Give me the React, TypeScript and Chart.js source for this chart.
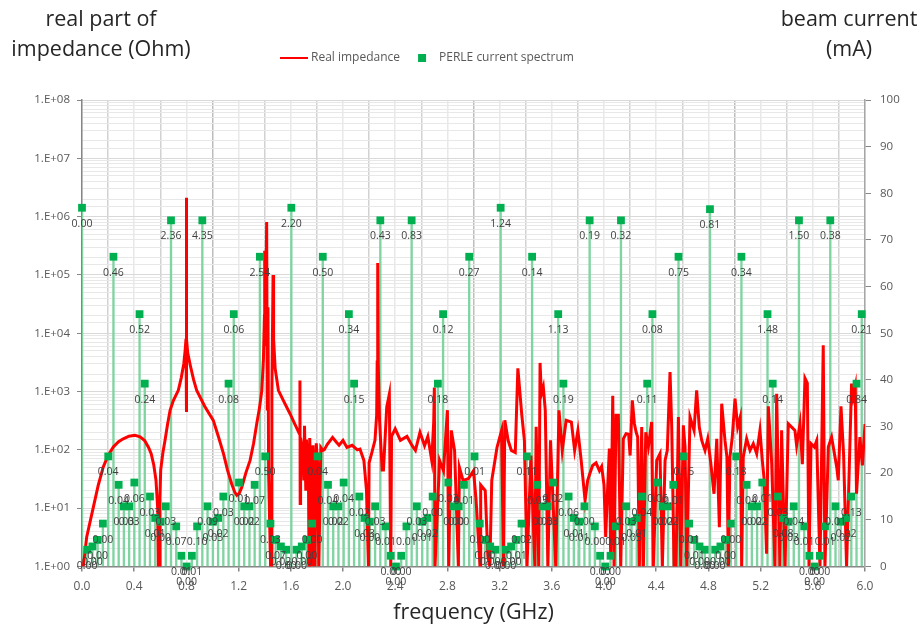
import React, { useEffect, useRef } from "react";
import { Chart, registerables } from "chart.js";

Chart.register(...registerables);

const FONT = '"Open Sans", sans-serif';

const harmonicFreq = [
  0, 0.04, 0.08, 0.12, 0.16, 0.201, 0.241, 0.281, 0.321, 0.361,
  0.401, 0.441, 0.481, 0.521, 0.561, 0.602, 0.642, 0.682, 0.722, 0.762,
  0.802, 0.842, 0.882, 0.922, 0.962, 1.003, 1.043, 1.083, 1.123, 1.163,
  1.203, 1.243, 1.283, 1.323, 1.363, 1.404, 1.444, 1.484, 1.524, 1.564,
  1.604, 1.644, 1.684, 1.724, 1.764, 1.805, 1.845, 1.885, 1.925, 1.965,
  2.005, 2.045, 2.085, 2.125, 2.165, 2.206, 2.246, 2.286, 2.326, 2.366,
  2.406, 2.446, 2.486, 2.526, 2.566, 2.607, 2.647, 2.687, 2.727, 2.767,
  2.807, 2.847, 2.887, 2.927, 2.967, 3.008, 3.048, 3.088, 3.128, 3.168,
  3.208, 3.248, 3.288, 3.328, 3.368, 3.409, 3.449, 3.489, 3.529, 3.569,
  3.609, 3.649, 3.689, 3.729, 3.769, 3.81, 3.85, 3.89, 3.93, 3.97,
  4.01, 4.05, 4.09, 4.13, 4.17, 4.211, 4.251, 4.291, 4.331, 4.371,
  4.411, 4.451, 4.491, 4.531, 4.571, 4.612, 4.652, 4.692, 4.732, 4.772,
  4.812, 4.852, 4.892, 4.932, 4.972, 5.013, 5.053, 5.093, 5.133, 5.173,
  5.213, 5.253, 5.293, 5.333, 5.373, 5.414, 5.454, 5.494, 5.534, 5.574,
  5.614, 5.654, 5.694, 5.734, 5.774, 5.815, 5.855, 5.895, 5.935, 5.975,
];

const beamCurrent = [
  76.9, 3.6, 4.3, 5.7, 9.2, 23.6, 66.4, 17.5, 12.9, 12.9, 18, 54.1, 39.2, 15, 10.4, 9.6, 12.9, 74.2, 8.6, 2.3,
  0, 2.3, 8.6, 74.2, 12.9, 9.6, 10.4, 15, 39.2, 54.1, 18, 12.9, 12.9, 17.5, 66.4, 23.6, 9.2, 5.7, 4.3, 3.6,
  76.9, 3.6, 4.3, 5.7, 9.2, 23.6, 66.4, 17.5, 12.9, 12.9, 18, 54.1, 39.2, 15, 10.4, 9.6, 12.9, 74.2, 8.6, 2.3,
  0, 2.3, 8.6, 74.2, 12.9, 9.6, 10.4, 15, 39.2, 54.1, 18, 12.9, 12.9, 17.5, 66.4, 23.6, 9.2, 5.7, 4.3, 3.6,
  76.9, 3.6, 4.3, 5.7, 9.2, 23.6, 66.4, 17.5, 12.9, 12.9, 18, 54.1, 39.2, 15, 10.4, 9.6, 12.9, 74.2, 8.6, 2.3,
  0, 2.3, 8.6, 74.2, 12.9, 9.6, 10.4, 15, 39.2, 54.1, 18, 12.9, 12.9, 17.5, 66.4, 23.6, 9.2, 5.7, 4.3, 3.6,
  76.6, 3.6, 4.3, 5.7, 9.2, 23.6, 66.4, 17.5, 12.9, 12.9, 18, 54.1, 39.2, 15, 10.4, 9.6, 12.9, 74.2, 8.6, 2.3,
  0, 2.3, 8.6, 74.2, 12.9, 9.6, 10.4, 15, 39.2, 54.1,
];

const powerLabels = [
  "0.00", "0.00", "0.00", "0.00", "0.00", "0.04", "0.46", "0.04", "0.03", "0.03", "0.06", "0.52", "0.24", "0.03", "0.01", "0.00", "0.03", "2.36", "0.07", "0.01",
  "0.00", "0.01", "0.10", "4.35", "0.09", "0.05", "0.02", "0.03", "0.08", "0.06", "0.01", "0.02", "0.02", "0.07", "2.54", "0.50", "0.03", "0.07", "0.02", "0.00",
  "2.20", "0.00", "0.00", "0.00", "0.00", "0.04", "0.50", "0.04", "0.02", "0.02", "0.04", "0.34", "0.15", "0.02", "0.03", "0.00", "0.03", "0.43", "0.01", "0.00",
  "0.00", "0.00", "0.01", "0.83", "0.03", "0.01", "0.02", "0.00", "0.18", "0.12", "0.03", "0.00", "0.00", "0.01", "0.27", "0.01", "0.00", "0.00", "0.00", "0.00",
  "1.24", "0.00", "0.00", "0.01", "0.02", "0.11", "0.14", "0.03", "0.03", "0.03", "0.02", "1.13", "0.19", "0.06", "0.01", "0.01", "0.00", "0.19", "0.00", "0.00",
  "0.00", "0.00", "0.01", "0.32", "0.03", "0.05", "0.01", "0.04", "0.11", "0.08", "0.06", "0.02", "0.02", "0.01", "0.75", "0.15", "0.01", "0.01", "0.00", "0.00",
  "0.81", "0.00", "0.00", "0.00", "0.00", "0.18", "0.34", "0.04", "0.02", "0.02", "0.01", "1.48", "0.14", "0.03", "0.08", "0.03", "0.04", "1.50", "0.01", "0.00",
  "0.00", "0.00", "0.01", "0.38", "0.01", "0.02", "0.02", "0.13", "0.84", "0.21",
];

// [frequency in GHz, real impedance in Ohm]
const impedance: [number, number][] = [
  [0.01, 1], [0.036, 3.2], [0.087, 10.4], [0.125, 25], [0.163, 51], [0.2, 80], [0.24, 112], [0.28, 138], [0.316, 155], [0.36, 172], [0.406, 178],
  [0.445, 168], [0.48, 145], [0.51, 110], [0.53, 86], [0.55, 55], [0.567, 30], [0.58, 10], [0.585, 1], [0.593, 1], [0.597, 15], [0.603, 45],
  [0.62, 90], [0.636, 145], [0.655, 270], [0.675, 478], [0.7, 700], [0.738, 1050], [0.76, 1700], [0.78, 3000], [0.79, 5000], [0.797, 8000],
  [0.8, 2100000], [0.8, 445], [0.802, 8000], [0.81, 4600], [0.83, 2800], [0.855, 1600], [0.879, 1050], [0.94, 560], [1.006, 320], [1.045, 170],
  [1.084, 86], [1.115, 45], [1.147, 26], [1.17, 19], [1.186, 16.6], [1.205, 18], [1.225, 23], [1.255, 40], [1.288, 66], [1.315, 130], [1.339, 282],
  [1.36, 520], [1.378, 1050], [1.39, 3500], [1.398, 20000], [1.4, 260000], [1.405, 6000], [1.415, 810000], [1.42, 500], [1.425, 28000], [1.43, 40],
  [1.445, 1], [1.45, 1], [1.455, 900], [1.464, 100000], [1.468, 8000], [1.48, 2500], [1.505, 1050], [1.55, 650], [1.594, 417], [1.63, 280],
  [1.665, 190], [1.67, 1550], [1.672, 12], [1.675, 160], [1.69, 100], [1.7, 30], [1.705, 260], [1.715, 20], [1.72, 150], [1.735, 40], [1.74, 1],
  [1.745, 160], [1.755, 25], [1.762, 1], [1.77, 120], [1.78, 20], [1.785, 1], [1.795, 130], [1.805, 60], [1.815, 1], [1.83, 110], [1.845, 98],
  [1.856, 100], [1.88, 125], [1.92, 163], [1.95, 135], [1.97, 120], [2.0, 145], [2.03, 110], [2.07, 120], [2.11, 100], [2.13, 103], [2.16, 66],
  [2.18, 20], [2.195, 1], [2.2, 60], [2.22, 88], [2.245, 146], [2.258, 400], [2.262, 3200], [2.266, 160000], [2.27, 3000], [2.28, 320], [2.3, 45],
  [2.31, 45], [2.335, 540], [2.355, 900], [2.366, 1], [2.372, 170], [2.4, 230], [2.44, 146], [2.49, 170], [2.53, 118], [2.555, 98], [2.59, 200],
  [2.625, 118], [2.65, 170], [2.68, 66], [2.695, 300], [2.7, 1170], [2.705, 1], [2.74, 66], [2.77, 44], [2.8, 480], [2.81, 1], [2.83, 216],
  [2.855, 98], [2.884, 1], [2.892, 50], [2.92, 30], [2.96, 32], [3.0, 44], [3.02, 13.6], [3.05, 1], [3.055, 25], [3.09, 20], [3.11, 1.5],
  [3.125, 1], [3.14, 30], [3.18, 110], [3.215, 215], [3.23, 1], [3.24, 321], [3.265, 146], [3.29, 98], [3.32, 90], [3.33, 478], [3.34, 2500],
  [3.37, 400], [3.39, 146], [3.41, 1], [3.44, 80], [3.47, 1], [3.48, 250], [3.5, 1], [3.51, 3100], [3.52, 900], [3.535, 1200], [3.55, 478],
  [3.57, 1], [3.59, 146], [3.63, 1], [3.655, 478], [3.68, 98], [3.71, 321], [3.75, 300], [3.775, 98], [3.8, 216], [3.825, 66], [3.855, 13.6],
  [3.875, 30], [3.893, 40], [3.913, 54], [3.939, 60], [3.965, 44], [3.982, 52], [4.0, 25], [4.013, 3.2], [4.026, 17.7], [4.041, 105], [4.051, 1.5],
  [4.067, 850], [4.077, 1], [4.092, 391], [4.11, 391], [4.128, 1], [4.148, 155], [4.169, 189], [4.189, 185], [4.2, 80], [4.217, 706], [4.233, 281],
  [4.246, 202], [4.258, 166], [4.271, 1], [4.289, 246], [4.302, 1], [4.32, 200], [4.34, 112], [4.365, 300], [4.378, 1], [4.404, 66], [4.429, 86],
  [4.447, 1], [4.468, 66], [4.485, 98], [4.506, 2170], [4.519, 246], [4.537, 1], [4.552, 1], [4.57, 366], [4.588, 1], [4.608, 263], [4.621, 112],
  [4.634, 1], [4.659, 366], [4.69, 216], [4.71, 1050], [4.73, 246], [4.749, 145], [4.774, 98], [4.795, 155], [4.818, 60], [4.843, 17.7], [4.864, 155],
  [4.884, 4.7], [4.902, 620], [4.927, 145], [4.942, 75], [4.953, 1], [4.965, 75], [4.983, 166], [5.004, 755], [5.024, 246], [5.044, 366], [5.055, 1],
  [5.067, 75], [5.093, 155], [5.119, 98], [5.144, 128], [5.17, 86], [5.195, 216], [5.213, 66], [5.228, 30], [5.246, 1.65], [5.259, 560], [5.285, 59],
  [5.31, 1], [5.323, 920], [5.348, 1], [5.361, 216], [5.387, 1], [5.412, 281], [5.438, 246], [5.463, 216], [5.476, 118], [5.502, 281], [5.52, 57],
  [5.54, 1700], [5.558, 1400], [5.571, 1], [5.586, 128], [5.612, 112], [5.63, 145], [5.655, 1], [5.68, 6200], [5.693, 1], [5.719, 112], [5.744, 166],
  [5.783, 51], [5.795, 30], [5.816, 560], [5.836, 82], [5.859, 1], [5.897, 1370], [5.91, 810], [5.925, 1200], [5.935, 17.7], [5.961, 166], [5.98, 54], [6.0, 278],
];

const xTickStep = 0.2;
const xMax = 6;
const yMin = 1;
const yMax = 1e8;
const rightMax = 100;
const rightStep = 10;

const legendNames = ["Real impedance", "PERLE current spectrum"];
const xTitle = "frequency (GHz)";
const leftTitle = ["real part of", "impedance (Ohm)"];
const rightTitle = ["beam current", "(mA)"];

const isMultiple = (v: number, step: number) => Math.abs(v / step - Math.round(v / step)) < 1e-6;

const decoration = {
  id: "decoration",
  afterLayout(chart: any) {
    chart.legend.left = 272;
    chart.legend.top = 41;
  },
  afterDatasetsDraw(chart: any) {
    const { ctx, scales } = chart;
    ctx.save();
    ctx.font = `10.5px ${FONT}`;
    ctx.fillStyle = "#404040";
    ctx.textAlign = "center";
    ctx.textBaseline = "middle";
    powerLabels.forEach((t, i) => {
      ctx.fillText(t, scales.x.getPixelForValue(harmonicFreq[i]), scales.y2.getPixelForValue(beamCurrent[i]) + 16);
    });
    ctx.font = `21.5px ${FONT}`;
    ctx.fillStyle = "#262626";
    leftTitle.forEach((t, i) => ctx.fillText(t, 101, 20 + i * 30));
    rightTitle.forEach((t, i) => ctx.fillText(t, 849, 20 + i * 30));
    ctx.restore();
  },
};

function legendIcon(kind: "line" | "rect") {
  const c = document.createElement("canvas");
  c.width = 28;
  c.height = 8;
  const g = c.getContext("2d")!;
  if (kind === "line") {
    g.fillStyle = "#ff0000";
    g.fillRect(0, 3, 28, 2);
  } else {
    g.fillStyle = "#00b050";
    g.fillRect(10, 0, 8, 8);
  }
  return c;
}

export default function App() {
  const ref = useRef<HTMLCanvasElement>(null);
  useEffect(() => {
    const lineIcon = legendIcon("line");
    const rectIcon = legendIcon("rect");
    const chart = new Chart(ref.current!, {
      type: "bar",
      data: {
        datasets: [
          {
            type: "bar",
            label: "stems",
            data: harmonicFreq.map((f, i) => ({ x: f, y: beamCurrent[i] })),
            xAxisID: "x",
            yAxisID: "y2",
            backgroundColor: "#80d4a2",
            barThickness: 1.7,
            order: 3,
          },
          {
            type: "line",
            label: legendNames[0],
            data: impedance.map(([x, y]) => ({ x, y })),
            xAxisID: "x",
            yAxisID: "y",
            borderColor: "#ff0000",
            backgroundColor: "#ff0000",
            borderWidth: 3,
            pointRadius: 0,
            tension: 0,
            order: 2,
          },
          {
            type: "line",
            label: legendNames[1],
            data: harmonicFreq.map((f, i) => ({ x: f, y: beamCurrent[i] })),
            xAxisID: "x",
            yAxisID: "y2",
            showLine: false,
            pointStyle: "rect",
            pointRadius: 5.5,
            pointBackgroundColor: "#00b050",
            pointBorderColor: "#00b050",
            pointBorderWidth: 0,
            borderColor: "#00b050",
            backgroundColor: "#00b050",
            clip: false,
            order: 1,
          },
        ] as any,
      },
      options: {
        responsive: false,
        animation: false,
        layout: { autoPadding: false, padding: { top: 67, left: 0, right: 0, bottom: 0 } },
        plugins: {
          tooltip: { enabled: false },
          title: { display: false },
          legend: {
            display: true,
            position: "top",
            align: "start",
            labels: {
              usePointStyle: true,
              pointStyleWidth: 22,
              boxHeight: 8,
              padding: 11,
              color: "#595959",
              font: { family: FONT, size: 12 },
              sort: (a: any, b: any) => a.datasetIndex - b.datasetIndex,
              filter: (item: any) => item.text !== "stems",
              generateLabels(chart: any) {
                const items = Chart.defaults.plugins.legend.labels.generateLabels(chart);
                items.forEach((it: any) => {
                  if (it.text === legendNames[0]) it.pointStyle = lineIcon;
                  else if (it.text === legendNames[1]) it.pointStyle = rectIcon;
                });
                return items;
              },
            },
          },
        },
        scales: {
          x: {
            type: "linear",
            position: "bottom",
            min: 0,
            max: xMax,
            offset: false,
            afterFit: (s: any) => { s.height = 63.5; },
            afterBuildTicks: (s: any) => {
              const vals: any[] = [];
              for (let k = 0; k <= 30; k++) vals.push({ value: Number((k * xTickStep).toFixed(1)) });
              s.ticks = vals;
            },
            ticks: {
              autoSkip: false,
              maxRotation: 0,
              padding: 8,
              color: "#595959",
              font: { family: FONT, size: 12 },
              callback: (v: any) => (isMultiple(Number(v), 0.4) ? Number(v).toFixed(1) : ""),
            },
            grid: {
              offset: false,
              lineWidth: 1.5,
              tickLength: 5,
              color: (c: any) => (c.tick && isMultiple(c.tick.value, 0.4) ? "#e8e8e8" : c.tick && isMultiple(c.tick.value, 1) ? "#bdbdbd" : "#d2d2d2"),
              tickColor: (c: any) => (c.tick && isMultiple(c.tick.value, 0.4) ? "#868686" : "transparent"),
            },
            border: { color: "#868686", width: 1.5 },
            title: {
              display: true,
              text: xTitle,
              color: "#262626",
              font: { family: FONT, size: 21.5 },
              padding: { top: 0, bottom: 4 },
            },
          },
          y: {
            type: "logarithmic",
            position: "left",
            min: yMin,
            max: yMax,
            afterFit: (s: any) => { s.width = 82; },
            ticks: {
              autoSkip: false,
              padding: 7,
              color: "#595959",
              font: { family: FONT, size: 11.5 },
              callback: (v: any) => {
                const e = Math.log10(Number(v));
                if (Math.abs(e - Math.round(e)) > 1e-9) return "";
                return "1.E+0" + Math.round(e);
              },
            },
            grid: {
              lineWidth: 1,
              tickLength: 5,
              color: (c: any) => (c.tick && c.tick.major ? "#d9d9d9" : "#e8e8e8"),
              tickColor: (c: any) => (c.tick && c.tick.major ? "#868686" : "transparent"),
            },
            border: { color: "#868686", width: 1.5 },
          },
          y2: {
            type: "linear",
            position: "right",
            min: 0,
            max: rightMax,
            afterFit: (s: any) => { s.width = 58; },
            ticks: {
              stepSize: rightStep,
              padding: 9,
              color: "#595959",
              font: { family: FONT, size: 11.5 },
            },
            grid: { drawOnChartArea: false, tickLength: 6, color: "#868686" },
            border: { color: "#a6a6a6", width: 1.5 },
          },
        },
      } as any,
      plugins: [decoration],
    });
    return () => chart.destroy();
  }, []);
  return (
    <div style={{ position: "fixed", left: 0, top: 0, width: 923, height: 630, background: "#fff" }}>
      <canvas ref={ref} width={923} height={630} style={{ display: "block" }} />
    </div>
  );
}
